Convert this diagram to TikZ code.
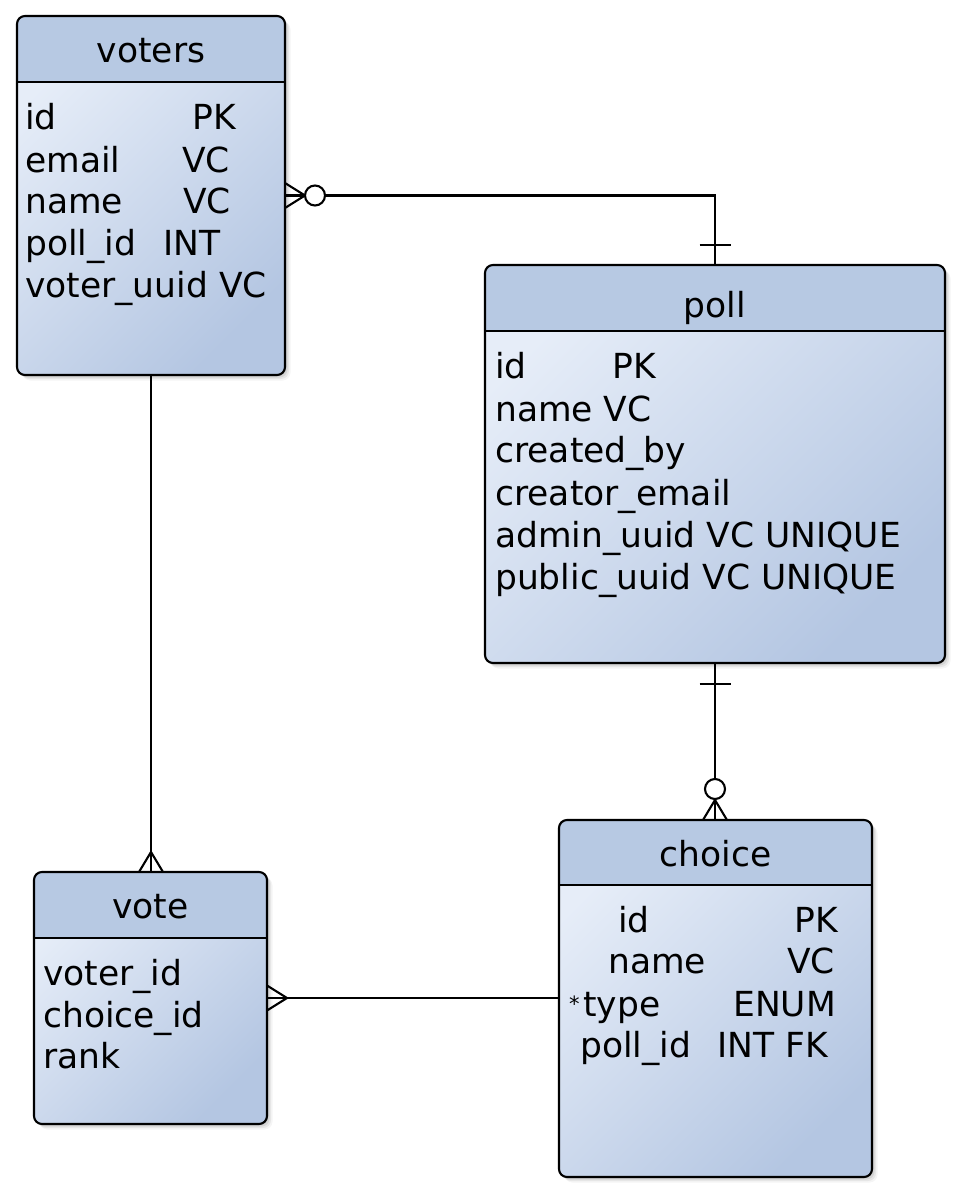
\documentclass[tikz,border=0pt]{standalone}
\usepackage{fontspec}
\setmainfont{DejaVu Sans}
\definecolor{hdr}{HTML}{B7C9E3}
\definecolor{bodyA}{HTML}{E6EDF8}
\definecolor{bodyB}{HTML}{B4C6E2}
\tikzset{
  lw/.style={line width=2.1pt, black},
  ttl/.style={inner sep=0pt, anchor=base, font=\fontsize{34.5}{40}\selectfont},
  row/.style={inner sep=0pt, anchor=base west, font=\fontsize{34.5}{40}\selectfont},
  entshape/.style={inner sep=0pt, outer sep=0pt, draw=none},
}
\newcommand\entbox[7]{%
  \node[entshape, minimum width=#4pt, minimum height=#5pt] (#1) at (#2,#3) {};
  \foreach \s/\o in {1/0.10,2.5/0.08,4/0.06,5.5/0.04}{
    \fill[black, opacity=\o, rounded corners=8pt]
      ([xshift=\s pt,yshift=-\s pt]#1.north west) rectangle ([xshift=\s pt,yshift=-\s pt]#1.south east);
  }
  \shade[top color=bodyA, bottom color=bodyB, shading angle=45, rounded corners=8pt]
    (#1.north west) rectangle (#1.south east);
  \begin{scope}
    \clip[rounded corners=8pt] (#1.north west) rectangle (#1.south east);
    \fill[hdr] (#1.north west) rectangle ([yshift=-#6pt]#1.north east);
  \end{scope}
  \draw[lw] ([yshift=-#6pt]#1.north west) -- ([yshift=-#6pt]#1.north east);
  \draw[lw, rounded corners=8pt] (#1.north west) rectangle (#1.south east);
  \node[ttl] (#1-title) at (#2,#7) {#1};
}
\begin{document}
\begin{tikzpicture}[x=1pt,y=-1pt]
\useasboundingbox[fill=white] (0,0) rectangle (962,1196);

\entbox{voters}{151}{195.5}{268}{359}{66}{63}
\entbox{poll}{715}{464}{460}{398}{66}{317}
\entbox{vote}{150.5}{998}{233}{252}{66}{918}
\entbox{choice}{715.5}{998.5}{313}{357}{65}{866}

% voters rows
\node[row] (vo1) at (25,129) {id};
\node[row] (vo1b) at (192,129) {PK};
\node[row] (vo2) at (25,172) {email};
\node[row] (vo2b) at (182,172) {VC};
\node[row] (vo3) at (25,213) {name};
\node[row] (vo3b) at (183,213) {VC};
\node[row] (vo4) at (25,255) {poll\_id};
\node[row] (vo4b) at (163,255) {INT};
\node[row] (vo5) at (25,297) {voter\_uuid VC};

% poll rows
\node[row] (po1) at (495,378) {id};
\node[row] (po1b) at (612,378) {PK};
\node[row] (po2) at (495,421) {name VC};
\node[row] (po3) at (495,462) {created\_by};
\node[row] (po4) at (495,505) {creator\_email};
\node[row] (po5) at (495,547) {admin\_uuid VC UNIQUE};
\node[row] (po6) at (495,589) {public\_uuid VC UNIQUE};

% vote rows
\node[row] (vt1) at (43,985) {voter\_id};
\node[row] (vt2) at (43,1027) {choice\_id};
\node[row] (vt3) at (43,1068) {rank};

% choice rows
\node[row] (ch1) at (618,932) {id};
\node[row] (ch1b) at (794,932) {PK};
\node[row] (ch2) at (608,973) {name};
\node[row] (ch2b) at (787,973) {VC};
\node[row] (ch3a) at (569,1016) {\raisebox{5pt}{\fontsize{21}{21}\selectfont *}};
\node[row] (ch3) at (583,1016) {type};
\node[row] (ch3b) at (733,1016) {ENUM};
\node[row] (ch4) at (580,1057) {poll\_id};
\node[row] (ch4b) at (717,1057) {INT FK};

% connectors
\draw[lw] (voters.east) -| (poll.north);
\draw[lw] ([yshift=12.5pt]voters.east) -- ([xshift=20pt]voters.east) -- ([yshift=-12.5pt]voters.east);
\draw[lw, fill=white] ([xshift=30pt]voters.east) circle[radius=10pt];
\draw[lw] ([xshift=-15.5pt,yshift=20pt]poll.north) -- ([xshift=15.5pt,yshift=20pt]poll.north);

\draw[lw] (voters.south) -- (voters.south |- vote.north);
\coordinate (vtop) at (voters.south |- vote.north);
\draw[lw] ([xshift=-12pt]vtop) -- ([yshift=20pt]vtop) -- ([xshift=12pt]vtop);

\draw[lw] (vote.east) -- (vote.east -| choice.west);
\draw[lw] ([yshift=12.5pt]vote.east) -- ([xshift=20pt]vote.east) -- ([yshift=-12.5pt]vote.east);

\draw[lw] (poll.south) -- (poll.south |- choice.north);
\coordinate (ctop) at (poll.south |- choice.north);
\draw[lw] ([xshift=-15.5pt,yshift=-21pt]poll.south) -- ([xshift=15.5pt,yshift=-21pt]poll.south);
\draw[lw] ([xshift=-12pt]ctop) -- ([yshift=20pt]ctop) -- ([xshift=12pt]ctop);
\draw[lw, fill=white] ([yshift=31pt]ctop) circle[radius=10pt];
\end{tikzpicture}
\end{document}
